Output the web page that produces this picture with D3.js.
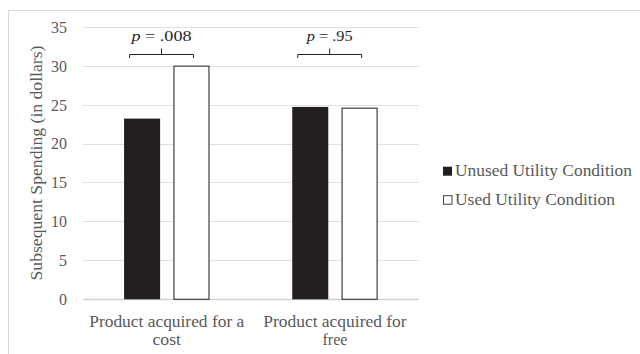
<!DOCTYPE html>
<html>
<head>
<meta charset="utf-8">
<script src="https://cdn.jsdelivr.net/npm/d3@7"></script>
<style>
  html, body { margin: 0; padding: 0; background: #fff; }
  svg { display: block; font-family: "Liberation Serif", "Times New Roman", serif; }
  svg text { font-family: "Liberation Serif", "Times New Roman", serif; }
</style>
</head>
<body>
<svg id="chart" width="640" height="354"></svg>
<script>
// Mean subsequent spending by acquisition type and utility condition
const categories = ["Product acquired for a cost", "Product acquired for free"];
const categoryLines = [["Product acquired for a", "cost"], ["Product acquired for", "free"]];
const seriesNames = ["Unused Utility Condition", "Used Utility Condition"];
const unusedValues = [23.2, 24.7];
const usedValues = [30.0, 24.6];
const yTicks = [0, 5, 10, 15, 20, 25, 30, 35];
const pLabels = [".008", ".95"];

// Rendered text widths (wide Times-style setting)
const categoryLineWidths = [[155, 28.5], [143.5, 25]];
const legendWidths = [177, 160];
const pLabelWidths = [60, 46];

const svg = d3.select("#chart");
const margin = { left: 82.7, right: 419, top: 26.7, bottom: 299.3 };

// Outer chart frame
svg.append("rect")
  .attr("x", 8.5).attr("y", 10.5)
  .attr("width", 700).attr("height", 400)
  .attr("fill", "none").attr("stroke", "#d9d9d9").attr("stroke-width", 1);

const x0 = d3.scaleBand().domain(categories).range([margin.left, margin.right]).paddingInner(0).paddingOuter(0);
const x1 = d3.scaleBand().domain(seriesNames).range([0, 85.4]).paddingInner(0.27);
const y = d3.scaleLinear().domain([0, 35]).range([margin.bottom, margin.top]);

// Gridlines
svg.append("g").selectAll("line").data(yTicks).join("line")
  .attr("x1", margin.left).attr("x2", margin.right)
  .attr("y1", d => Math.round(y(d)) + 0.5).attr("y2", d => Math.round(y(d)) + 0.5)
  .attr("stroke", d => d === 0 ? "#d0d0d0" : "#e0e0e0").attr("stroke-width", d => d === 0 ? 1.3 : 1);

// Y axis tick labels
const yAxis = d3.axisLeft(y).tickValues(yTicks).tickSize(0).tickPadding(0);
const gy = svg.append("g").attr("transform", `translate(${67},0)`).call(yAxis);
gy.select(".domain").remove();
gy.attr("font-family", null).attr("font-size", 16);
gy.selectAll("text")
  .attr("font-size", 16).attr("fill", "#595959").attr("dy", "0.34em");

// Y axis title
svg.append("text")
  .attr("transform", `translate(41.5,${(margin.top + margin.bottom) / 2}) rotate(-90)`)
  .attr("text-anchor", "middle")
  .attr("font-size", 17).attr("fill", "#595959")
  .attr("textLength", 235).attr("lengthAdjust", "spacingAndGlyphs")
  .text("Subsequent Spending (in dollars)");

// Bars
const rows = categories.map((c, i) => ({ cat: c, values: [unusedValues[i], usedValues[i]] }));
const groupW = 85.4;
const groups = svg.append("g").selectAll("g").data(rows).join("g")
  .attr("transform", d => `translate(${x0(d.cat) + (x0.bandwidth() - groupW) / 2},0)`);

groups.selectAll("rect").data(d => d.values.map((v, j) => ({ s: seriesNames[j], v, j }))).join("rect")
  .attr("x", d => x1(d.s) + (d.j === 1 ? 0.5 : 0))
  .attr("y", d => y(d.v) + (d.j === 1 ? 0.5 : 0))
  .attr("width", d => x1.bandwidth() - (d.j === 1 ? 1 : 0))
  .attr("height", d => y(0) - y(d.v) - (d.j === 1 ? 0.5 : 0))
  .attr("fill", d => d.j === 0 ? "#231f20" : "#ffffff")
  .attr("stroke", d => d.j === 0 ? "none" : "#404040")
  .attr("stroke-width", 1.2);

// Significance brackets and p-value labels
const brackets = svg.append("g");
rows.forEach((d, i) => {
  const gx = x0(d.cat) + (x0.bandwidth() - groupW) / 2;
  const left = gx + x1(seriesNames[0]) + 5.5;
  const right = gx + x1(seriesNames[1]) + x1.bandwidth() - 16;
  const mid = (left + right) / 2;
  const yb = 54.5;
  brackets.append("path")
    .attr("d", `M${left},${yb + 3.5}V${yb}H${right}V${yb + 3.5}M${mid},${yb}V${yb - 6}`)
    .attr("fill", "none").attr("stroke", "#262626").attr("stroke-width", 1);
  const t = brackets.append("text")
    .attr("x", mid - pLabelWidths[i] / 2).attr("y", 41)
    .attr("font-size", 15).attr("fill", "#262626")
    .attr("textLength", pLabelWidths[i]).attr("lengthAdjust", "spacingAndGlyphs");
  t.append("tspan").attr("font-style", "italic").text("p");
  t.append("tspan").text(" = " + pLabels[i]);
});

// Category labels
const catG = svg.append("g").selectAll("g").data(categories).join("g");
catG.each(function(d, i) {
  const el = d3.select(this);
  const cx = x0(d) + x0.bandwidth() / 2;
  categoryLines[i].forEach((line, k) => {
    el.append("text")
      .attr("x", cx - categoryLineWidths[i][k] / 2)
      .attr("y", 326.5 + k * 18.8)
      .attr("font-size", 16.5).attr("fill", "#595959")
      .attr("textLength", categoryLineWidths[i][k]).attr("lengthAdjust", "spacingAndGlyphs")
      .text(line);
  });
});

// Legend
const legend = svg.append("g").selectAll("g").data(seriesNames).join("g")
  .attr("transform", (d, i) => `translate(443,${166.7 + i * 28.5})`);
legend.append("rect")
  .attr("x", (d, i) => i === 1 ? 0.5 : 0).attr("y", (d, i) => i === 1 ? 0.5 : 0)
  .attr("width", (d, i) => i === 1 ? 8.5 : 9).attr("height", (d, i) => i === 1 ? 8.5 : 9)
  .attr("fill", (d, i) => i === 0 ? "#231f20" : "#fff")
  .attr("stroke", (d, i) => i === 0 ? "none" : "#404040").attr("stroke-width", 1);
legend.append("text")
  .attr("x", 12).attr("y", 9.3)
  .attr("font-size", 17).attr("fill", "#595959")
  .attr("textLength", (d, i) => legendWidths[i]).attr("lengthAdjust", "spacingAndGlyphs")
  .text(d => d);
</script>
</body>
</html>
